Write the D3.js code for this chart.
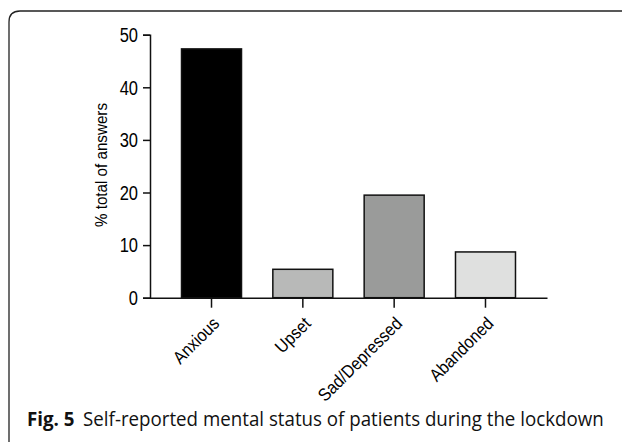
<!DOCTYPE html>
<html>
<head>
<meta charset="utf-8">
<script src="https://d3js.org/d3.v7.min.js"></script>
<style>
html,body{margin:0;padding:0;background:#fff;}
svg{display:block;}
</style>
</head>
<body>
<script>
const categories = ["Anxious", "Upset", "Sad/Depressed", "Abandoned"];
const values = [47.3, 5.4, 19.5, 8.7];
const barColors = ["#000000", "#b8b9b8", "#9a9b9a", "#dfe0df"];
const yTicks = [0, 10, 20, 30, 40, 50];
const yTitle = "% total of answers";
const captionBold = "Fig. 5";
const captionText = "Self-reported mental status of patients during the lockdown";

const W = 622, H = 442;
const svg = d3.select("body").append("svg").attr("width", W).attr("height", H);

// frame
svg.append("path")
  .attr("d", "M9,442 L9,22 Q9,11 20,11 L622,11")
  .attr("fill", "none").attr("stroke", "#222").attr("stroke-width", 1.3);

const x = d3.scaleBand().domain(categories).range([150, 547]).paddingInner(0.343).paddingOuter(0.345);
const y = d3.scaleLinear().domain([0, 50]).range([297.7, 34.7]);

const font = "'Liberation Sans', Arial, Helvetica, sans-serif";

// bars
svg.selectAll("rect.bar").data(categories).enter().append("rect")
  .attr("class", "bar")
  .attr("x", d => x(d))
  .attr("width", x.bandwidth())
  .attr("y", (d, i) => y(values[i]))
  .attr("height", (d, i) => y(0) - y(values[i]))
  .attr("fill", (d, i) => barColors[i])
  .attr("stroke", "#111").attr("stroke-width", 1.5);

// y axis
const yAxis = svg.append("g").attr("transform", "translate(150,0)")
  .call(d3.axisLeft(y).tickValues(yTicks).tickSize(7).tickPadding(3));
yAxis.select(".domain").attr("stroke", "#111").attr("stroke-width", 1.5);
yAxis.selectAll(".tick line").attr("stroke", "#111").attr("stroke-width", 1.5);
yAxis.selectAll(".tick text")
  .attr("font-family", font).attr("font-size", 16.5).attr("fill", "#000")
  .attr("x", 0).attr("dy", 0)
  .attr("transform", "translate(-12,6.8) scale(1,1.17)");

// x axis
const xAxis = svg.append("g").attr("transform", "translate(0,297.7)")
  .call(d3.axisBottom(x).tickSize(10).tickSizeOuter(0));
xAxis.select(".domain").attr("stroke", "#111").attr("stroke-width", 1.5);
xAxis.selectAll(".tick line").attr("stroke", "#111").attr("stroke-width", 1.5);
xAxis.selectAll(".tick text")
  .attr("font-family", font).attr("font-size", 16).attr("fill", "#000")
  .attr("text-anchor", "end")
  .attr("dy", 0).attr("y", 0)
  .attr("transform", "translate(9,27) rotate(-45) scale(1,1.12)");

// y title
svg.append("text")
  .attr("transform", "translate(107,165) rotate(-90)")
  .attr("text-anchor", "middle")
  .attr("font-family", font).attr("font-size", 16.5).attr("fill", "#000")
  .attr("textLength", 124).attr("lengthAdjust", "spacingAndGlyphs")
  .text(yTitle);

// caption
const cap = svg.append("text").attr("transform", "translate(27,425.5) scale(0.96,1)")
  .attr("font-family", "'Open Sans', 'Noto Sans', sans-serif").attr("font-size", 19.5).attr("fill", "#111");
cap.append("tspan").attr("font-weight", "bold").text(captionBold);
cap.append("tspan").attr("dx", 9).text(captionText);
</script>
</body>
</html>
